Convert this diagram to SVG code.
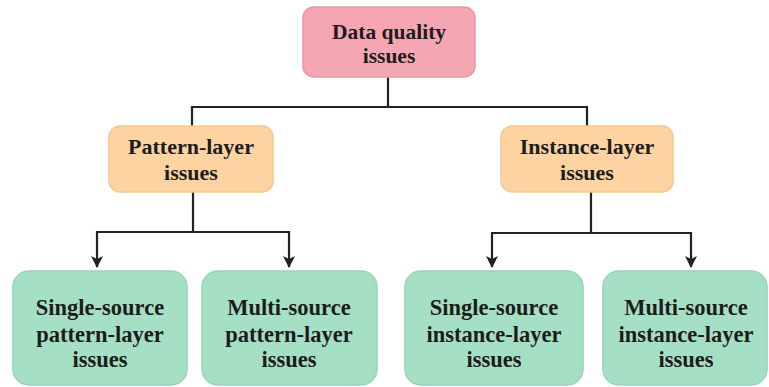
<svg xmlns="http://www.w3.org/2000/svg" width="769" height="387" viewBox="0 0 769 387">
<style>
.t{font-family:"Liberation Serif","DejaVu Serif",serif;font-weight:bold;font-size:21.5px;fill:#1c1c1c;text-anchor:middle}
.m{font-size:22px}
.b{font-size:22.5px}
.c{fill:none;stroke:#222;stroke-width:2.2}
.pink{fill:#f5a6b2;stroke:#e996a4;stroke-width:1.5}
.orange{fill:#fcd3a1;stroke:#f6c891;stroke-width:1.5}
.green{fill:#a5e0c4;stroke:#93d5b6;stroke-width:1.5}
</style>
<defs>
<marker id="arr" viewBox="0 0 12 12" refX="11" refY="6" markerWidth="12" markerHeight="12" orient="auto" markerUnits="userSpaceOnUse">
<path d="M0,0 L12,6 L0,12 L3,6 Z" fill="#222"/>
</marker>
</defs>
<g id="connectors">
<path class="c" d="M388,77 V107 M192,107 H587 M192,106 V126 M587,106 V126"/>
<path class="c" d="M193,192 V232 M96,232 H289"/>
<path class="c" d="M97,231 V267" marker-end="url(#arr)"/>
<path class="c" d="M289,231 V267" marker-end="url(#arr)"/>
<path class="c" d="M591,192 V233 M492,233 H691"/>
<path class="c" d="M492,232 V267" marker-end="url(#arr)"/>
<path class="c" d="M691,232 V267" marker-end="url(#arr)"/>
</g>
<g id="data-quality">
<rect class="pink" x="303" y="7" width="172" height="70" rx="11"/>
<text class="t" x="389" y="39">Data quality</text>
<text class="t" x="389" y="63">issues</text>
</g>
<g id="pattern-layer">
<rect class="orange" x="109" y="126" width="164" height="66" rx="11"/>
<text class="t m" x="191" y="154">Pattern-layer</text>
<text class="t m" x="191" y="180">issues</text>
</g>
<g id="instance-layer">
<rect class="orange" x="501" y="126" width="172" height="66" rx="11"/>
<text class="t m" x="587" y="154">Instance-layer</text>
<text class="t m" x="587" y="180">issues</text>
</g>
<g id="single-pattern">
<rect class="green" x="13" y="271" width="174" height="114" rx="16"/>
<text class="t b" x="100" y="315">Single-source</text>
<text class="t b" x="100" y="342">pattern-layer</text>
<text class="t b" x="100" y="367">issues</text>
</g>
<g id="multi-pattern">
<rect class="green" x="202" y="271" width="175" height="114" rx="16"/>
<text class="t b" x="289" y="315">Multi-source</text>
<text class="t b" x="289" y="342">pattern-layer</text>
<text class="t b" x="289" y="367">issues</text>
</g>
<g id="single-instance">
<rect class="green" x="405" y="271" width="178" height="114" rx="16"/>
<text class="t b" x="494" y="315">Single-source</text>
<text class="t b" x="494" y="342">instance-layer</text>
<text class="t b" x="494" y="367">issues</text>
</g>
<g id="multi-instance">
<rect class="green" x="603" y="271" width="164" height="114" rx="16"/>
<text class="t b" x="686" y="315">Multi-source</text>
<text class="t b" x="686" y="342">instance-layer</text>
<text class="t b" x="686" y="367">issues</text>
</g>
</svg>
